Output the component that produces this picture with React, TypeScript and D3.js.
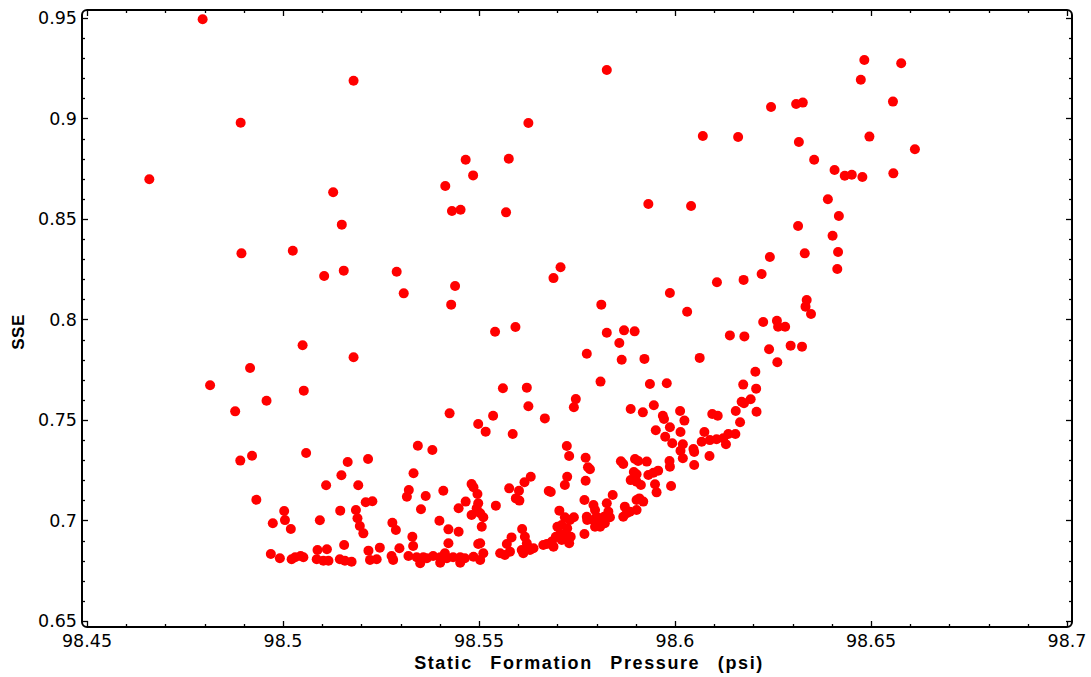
import React from "react";
import * as d3 from "d3";

const X_DOMAIN: [number, number] = [98.45, 98.7];
const Y_DOMAIN: [number, number] = [0.65, 0.95];
const xMajorTicks = [98.45, 98.5, 98.55, 98.6, 98.65, 98.7];
const yMajorTicks = [0.65, 0.7, 0.75, 0.8, 0.85, 0.9, 0.95];
const xLabel = "Static Formation Pressure (psi)";
const yLabel = "SSE";

// [static formation pressure (psi), SSE]
const samples: [number, number][] = [
  [98.4795,0.9494],[98.518,0.9188],[98.4892,0.8979],[98.5826,0.9241],[98.5626,0.8978],[98.4659,0.8698],
  [98.5466,0.8795],[98.5576,0.88],[98.5485,0.8717],[98.5414,0.8664],[98.5128,0.8633],[98.5431,0.854],
  [98.5453,0.8546],[98.5569,0.8533],[98.5932,0.8575],[98.515,0.8472],[98.4894,0.8329],[98.5025,0.8342],
  [98.5105,0.8216],[98.5155,0.8243],[98.529,0.8238],[98.5308,0.813],[98.5439,0.8167],[98.5429,0.8074],
  [98.5708,0.826],[98.569,0.8206],[98.5812,0.8074],[98.5541,0.7939],[98.5593,0.7963],[98.5826,0.7934],
  [98.587,0.7946],[98.5897,0.7941],
  [98.6071,0.8913],[98.6161,0.8908],[98.6245,0.9057],[98.6309,0.9072],[98.6041,0.8565],[98.6242,0.8311],
  [98.6316,0.8883],[98.6314,0.8465],
  [98.6483,0.9291],[98.6577,0.9275],[98.6474,0.9193],[98.6326,0.9079],[98.6556,0.9084],[98.6496,0.891],
  [98.6612,0.8847],[98.6355,0.8795],[98.6407,0.8744],[98.6433,0.8715],[98.6451,0.872],[98.6478,0.8709],
  [98.6557,0.8727],[98.639,0.8598],[98.6418,0.8515],[98.6402,0.8417],[98.6331,0.8329],[98.6416,0.8336],
  [98.6414,0.8251],[98.6336,0.8097],[98.6333,0.8064],[98.6347,0.8027],[98.6324,0.7865],
  [98.6107,0.8185],[98.6175,0.8197],[98.6221,0.8226],[98.5987,0.8132],[98.6031,0.8039],[98.6225,0.7988],
  [98.5858,0.7883],[98.614,0.7921],[98.6177,0.7916],[98.624,0.7852],[98.5775,0.783],[98.5864,0.78],
  [98.5922,0.7804],[98.6063,0.7809],[98.6261,0.7787],[98.6205,0.774],
  [98.626,0.7994],[98.6263,0.7964],[98.6281,0.7964],[98.6295,0.787],[98.6174,0.7676],[98.6207,0.7656],
  [98.617,0.7591],[98.6193,0.7603],[98.6176,0.7583],[98.6155,0.7545],[98.6208,0.7541],[98.6166,0.7489],
  [98.6136,0.743],[98.6154,0.743],
  [98.505,0.7872],[98.518,0.7812],[98.4916,0.7759],[98.4814,0.7673],[98.5053,0.7646],[98.4958,0.7596],
  [98.4878,0.7543],[98.4921,0.7322],[98.4891,0.7298],[98.5059,0.7336],[98.5165,0.7291],[98.5217,0.7306],
  [98.5149,0.7225],[98.511,0.7175],[98.5192,0.7175],[98.4932,0.7103],[98.5003,0.7047],[98.5005,0.7002],
  [98.4974,0.6986],[98.502,0.6958],[98.5094,0.7001],[98.5146,0.7049],[98.5186,0.7052],[98.519,0.7011],
  [98.5196,0.6973],[98.5205,0.6936],[98.5211,0.7091],[98.5228,0.7096],[98.5279,0.6989],[98.5288,0.6953],
  [98.5425,0.7533],[98.5498,0.748],[98.5344,0.7372],[98.5381,0.7351],
  [98.5156,0.6878],[98.4969,0.6833],[98.4992,0.6812],[98.5022,0.6807],[98.5031,0.6817],[98.5045,0.6823],
  [98.5052,0.6817],[98.5088,0.6853],[98.5112,0.6857],[98.5086,0.6807],[98.5103,0.68],[98.5116,0.68],
  [98.5145,0.6807],[98.5158,0.68],[98.5175,0.6795],[98.5218,0.685],[98.5247,0.6865],[98.5222,0.6804],
  [98.5239,0.6807],[98.5277,0.6823],[98.5297,0.6862],[98.5281,0.6804],
  [98.5333,0.7235],[98.5481,0.7182],[98.5486,0.7165],[98.5321,0.7152],[98.5316,0.7118],[98.5364,0.7122],
  [98.5409,0.7148],[98.5496,0.7132],[98.5498,0.7086],[98.5494,0.7061],[98.5466,0.7094],[98.5448,0.7061],
  [98.5352,0.7056],[98.5399,0.6999],[98.5422,0.6956],[98.5448,0.6944],[98.5481,0.7027],[98.533,0.6919],
  [98.5422,0.6887],[98.5332,0.6873],[98.532,0.6823],[98.5341,0.6817],[98.5358,0.6817],[98.5367,0.6812],
  [98.5383,0.6823],[98.5401,0.6817],[98.5413,0.6837],[98.5418,0.6812],[98.5434,0.6817],[98.5452,0.6817],
  [98.5464,0.6812],[98.5486,0.682],[98.5498,0.6883],[98.535,0.6787],[98.5401,0.679],[98.5452,0.679],
  [98.5561,0.7658],[98.5622,0.7661],[98.5626,0.7568],[98.5536,0.7521],[98.5517,0.7442],[98.5586,0.743],
  [98.5668,0.7508],[98.581,0.7691],[98.5936,0.7679],[98.5979,0.7683],[98.5747,0.7604],[98.5742,0.7563],
  [98.5887,0.7555],[98.5918,0.7538],[98.5946,0.7573],[98.5969,0.7521],[98.5972,0.7505],[98.6013,0.7545],
  [98.6024,0.7497],[98.5951,0.7449],[98.5987,0.7464],[98.6014,0.744],[98.5975,0.7417],[98.5993,0.7384],
  [98.602,0.7379],[98.6014,0.7347],[98.6047,0.7356],[98.6049,0.7341],[98.602,0.731],[98.6049,0.7276],
  [98.6075,0.744],[98.6095,0.753],[98.6109,0.7521],[98.6068,0.7392],[98.6089,0.74],[98.6106,0.7404],
  [98.6123,0.7409],[98.613,0.7379],[98.6088,0.7321],[98.5724,0.7371],[98.573,0.7321],[98.5772,0.7312],
  [98.5778,0.7265],[98.5783,0.7255],[98.5862,0.7295],[98.5868,0.7281],[98.5898,0.7306],[98.5906,0.7296],
  [98.5928,0.7293],[98.5986,0.7296],[98.5987,0.7268],[98.5895,0.7241],[98.5902,0.723],[98.5932,0.7226],
  [98.5945,0.7238],[98.5957,0.7248],[98.5887,0.7201],[98.5902,0.7193],[98.5913,0.7177],[98.5949,0.718],
  [98.5953,0.714],[98.599,0.7172],[98.5725,0.7218],[98.5719,0.7177],[98.5772,0.7198],[98.5577,0.716],
  [98.5602,0.7148],[98.5594,0.711],[98.5603,0.7099],[98.5632,0.7218],[98.5616,0.719],[98.5678,0.7147],
  [98.5683,0.7142],[98.5543,0.7074],[98.5503,0.7036],[98.5511,0.7016],[98.5507,0.6969],[98.5503,0.6887],
  [98.5511,0.6837],[98.5503,0.6804],[98.561,0.6958],[98.5583,0.6916],[98.5617,0.6919],[98.5622,0.6887],
  [98.5571,0.6883],[98.5554,0.6837],[98.5566,0.6828],[98.5579,0.6845],[98.5609,0.6853],[98.563,0.6853],
  [98.5639,0.6862],[98.5613,0.6837],[98.5705,0.7049],[98.5719,0.7016],[98.5742,0.7016],[98.5732,0.7003],
  [98.5711,0.6978],[98.57,0.6969],[98.5725,0.6961],[98.5707,0.6933],[98.5722,0.6928],[98.5734,0.6919],
  [98.5696,0.6919],[98.573,0.6887],[98.5686,0.6895],[98.5673,0.6883],[98.5664,0.6878],[98.569,0.687],
  [98.5711,0.6903],[98.5769,0.7102],[98.5792,0.7077],[98.5796,0.7052],[98.5826,0.7086],[98.583,0.7044],
  [98.5841,0.7127],[98.5775,0.7019],[98.5776,0.7003],[98.5792,0.7003],[98.58,0.7019],[98.5809,0.6994],
  [98.5819,0.7019],[98.5834,0.7016],[98.5821,0.6986],[98.5809,0.6969],[98.5796,0.6969],[98.5769,0.6933],
  [98.5872,0.7069],[98.5868,0.7019],[98.5877,0.7036],[98.5885,0.7044],[98.5902,0.7052],[98.5909,0.711],
  [98.5902,0.7102],[98.5919,0.7094],
];

const W = 1091;
const H = 677;
const FRAME = { left: 82, right: 1072, top: 10, bottom: 627 };

export default function App() {
  const x = d3.scaleLinear().domain(X_DOMAIN).range([87, 1067]);
  const y = d3.scaleLinear().domain(Y_DOMAIN).range([621, 18]);

  const xMinor = d3.range(0, 26).map((i) => X_DOMAIN[0] + i * 0.01);
  const yMinor = d3.range(0, 31).map((i) => Y_DOMAIN[0] + i * 0.01);
  const isMajor = (v: number, majors: number[]) => majors.some((m) => Math.abs(m - v) < 1e-6);

  const tickFont = "'DejaVu Sans', sans-serif";
  const titleFont = "'Liberation Sans', Arial, sans-serif";

  return (
    <div style={{ position: "absolute", left: 0, top: 0 }}>
      <svg width={W} height={H} style={{ display: "block", background: "#fff" }}>
        <rect x={0} y={0} width={W} height={H} fill="#fff" />
        <g>
          {samples.map(([px, py], i) => (
            <circle key={i} cx={x(px)} cy={y(py)} r={5} fill="#ff0000" />
          ))}
        </g>
        <rect
          x={FRAME.left}
          y={FRAME.top}
          width={FRAME.right - FRAME.left}
          height={FRAME.bottom - FRAME.top}
          rx={5}
          ry={5}
          fill="none"
          stroke="#000"
          strokeWidth={2}
        />
        {xMinor.map((v, i) => {
          const maj = isMajor(v, xMajorTicks);
          const len = maj ? 6 : 3;
          const px = Math.round(x(v)) + 0.5;
          return (
            <g key={"xt" + i}>
              <line x1={px} x2={px} y1={FRAME.bottom} y2={FRAME.bottom - len} stroke="#000" strokeWidth={1.3} />
              <line x1={px} x2={px} y1={FRAME.top} y2={FRAME.top + len} stroke="#000" strokeWidth={1.3} />
            </g>
          );
        })}
        {yMinor.map((v, i) => {
          const maj = isMajor(v, yMajorTicks);
          const len = maj ? 6 : 3;
          const py = Math.round(y(v)) + 0.5;
          return (
            <g key={"yt" + i}>
              <line x1={FRAME.left} x2={FRAME.left + len} y1={py} y2={py} stroke="#000" strokeWidth={1.3} />
              <line x1={FRAME.right} x2={FRAME.right - len} y1={py} y2={py} stroke="#000" strokeWidth={1.3} />
            </g>
          );
        })}
        {xMajorTicks.map((v) => (
          <text key={"xl" + v} x={x(v)} y={647} textAnchor="middle" fontFamily={tickFont} fontSize={17.5} fill="#000">
            {d3.format("")(+v.toFixed(2))}
          </text>
        ))}
        {yMajorTicks.map((v) => (
          <text key={"yl" + v} x={77} y={y(v)} dy="0.36em" textAnchor="end" fontFamily={tickFont} fontSize={17.5} fill="#000">
            {d3.format("")(+v.toFixed(2))}
          </text>
        ))}
        <text
          x={589}
          y={669}
          textAnchor="middle"
          fontFamily={titleFont}
          fontWeight="bold"
          fontSize={18}
          letterSpacing={1.6}
          wordSpacing={11}
          fill="#000"
        >
          {xLabel}
        </text>
        <text
          transform="translate(24,332) rotate(-90)"
          textAnchor="middle"
          fontFamily={titleFont}
          fontWeight="bold"
          fontSize={17}
          letterSpacing={0.5}
          fill="#000"
        >
          {yLabel}
        </text>
      </svg>
    </div>
  );
}
